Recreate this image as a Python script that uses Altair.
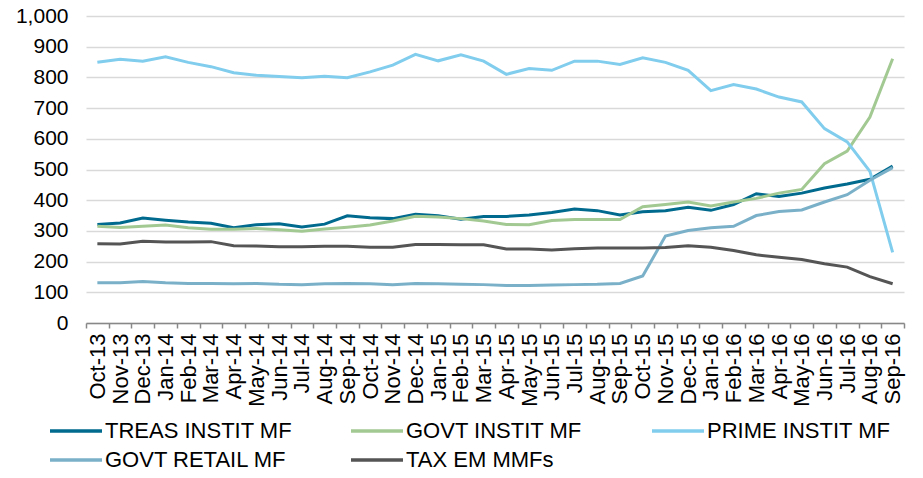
import altair as alt
import pandas as pd

months = ["Oct-13", "Nov-13", "Dec-13", "Jan-14", "Feb-14", "Mar-14", "Apr-14", "May-14",
          "Jun-14", "Jul-14", "Aug-14", "Sep-14", "Oct-14", "Nov-14", "Dec-14", "Jan-15",
          "Feb-15", "Mar-15", "Apr-15", "May-15", "Jun-15", "Jul-15", "Aug-15", "Sep-15",
          "Oct-15", "Nov-15", "Dec-15", "Jan-16", "Feb-16", "Mar-16", "Apr-16", "May-16",
          "Jun-16", "Jul-16", "Aug-16", "Sep-16"]

treas_instit = [321, 326, 342, 335, 329, 325, 310, 320, 323, 313, 322, 349, 343, 340, 354,
                349, 338, 347, 347, 352, 360, 371, 366, 352, 362, 366, 377, 367, 386, 421,
                412, 423, 440, 453, 468, 511]
govt_instit = [315, 311, 315, 319, 310, 305, 305, 308, 304, 299, 306, 312, 319, 332, 348,
               345, 340, 332, 321, 320, 334, 337, 337, 337, 379, 386, 394, 381, 394, 406,
               423, 435, 519, 560, 671, 861]
prime_instit = [849, 859, 853, 867, 849, 835, 815, 807, 803, 799, 804, 799, 818, 840, 875,
                854, 874, 853, 810, 829, 823, 853, 853, 842, 864, 849, 823, 757, 777, 762,
                736, 720, 633, 590, 494, 230]
govt_retail = [131, 131, 135, 131, 129, 129, 128, 129, 126, 125, 128, 129, 128, 125, 129,
               128, 126, 125, 122, 122, 124, 125, 126, 129, 153, 283, 301, 310, 315, 350,
               363, 368, 394, 418, 465, 506]
tax_em = [258, 257, 266, 264, 264, 265, 252, 251, 248, 248, 250, 250, 247, 247, 256,
          256, 255, 255, 241, 241, 238, 242, 244, 244, 244, 246, 252, 247, 236, 222,
          214, 207, 193, 182, 151, 128]

series_names = ["TREAS INSTIT MF", "GOVT INSTIT MF", "PRIME INSTIT MF", "GOVT RETAIL MF", "TAX EM MMFs"]
series_values = [treas_instit, govt_instit, prime_instit, govt_retail, tax_em]
series_colors = ["#006a8e", "#a3c993", "#80cdee", "#7ab1c9", "#555555"]
y_ticks = [0, 100, 200, 300, 400, 500, 600, 700, 800, 900, 1000]

rows = []
for name, vals in zip(series_names, series_values):
    for m, v in zip(months, vals):
        rows.append({"month": m, "series": name, "value": v})
df = pd.DataFrame(rows)

FONT = "Liberation Sans"

chart = alt.Chart(df).mark_line(strokeWidth=3).encode(
    x=alt.X("month:N", sort=months, title=None,
            scale=alt.Scale(type="band", paddingInner=0, paddingOuter=0),
            axis=alt.Axis(labelAngle=-90, labelFontSize=22, labelFont=FONT, labelColor="#000000",
                          tickBand="extent", tickSize=5, tickColor="#888888", tickWidth=1.5,
                          domainColor="#888888", domainWidth=1.5, labelPadding=5, grid=False,
                          labelOverlap=False)),
    y=alt.Y("value:Q", title=None,
            scale=alt.Scale(domain=[0, 1000], nice=False),
            axis=alt.Axis(values=y_ticks, format=",.0f", labelFontSize=21, labelFont=FONT,
                          labelColor="#000000", ticks=False, domain=False, labelPadding=18,
                          grid=True, gridColor="#d9d9d9", gridWidth=1.5)),
    color=alt.Color("series:N", sort=series_names,
                    scale=alt.Scale(domain=series_names, range=series_colors),
                    legend=alt.Legend(title=None, orient="none", legendX=-51, legendY=400,
                                      direction="horizontal", columns=3, gridAlign="all",
                                      symbolType="M0,0H4", symbolSize=676, symbolStrokeWidth=3.5,
                                      labelFontSize=22, labelFont=FONT, labelColor="#000000",
                                      labelOffset=40, columnPadding=44, rowPadding=3, padding=0,
                                      labelLimit=400)),
).properties(
    width=818, height=307,
    autosize=alt.AutoSizeParams(type="none"),
    padding={"left": 78, "top": 8, "right": 11, "bottom": 147},
).configure_view(stroke=None)

chart.save("out.html", embed_options={"renderer": "svg", "actions": False})
